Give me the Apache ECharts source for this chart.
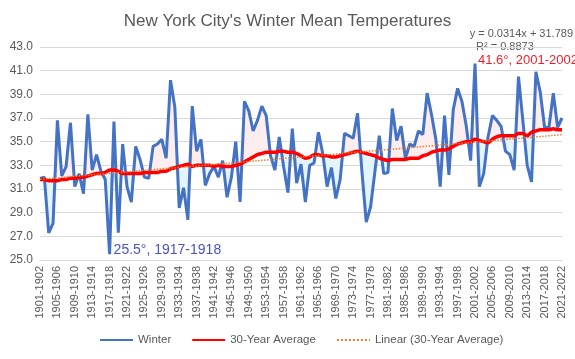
<!DOCTYPE html>
<html><head><meta charset="utf-8">
<script src="https://cdn.jsdelivr.net/npm/echarts@6/dist/echarts.min.js"></script>
<style>html,body{margin:0;padding:0;background:#fff}#c{width:575px;height:359px}</style>
</head><body><div id="c"></div>
<script>
const seasons = [];
for (let y = 1901; y <= 2021; y++) seasons.push(y + '-' + (y + 1));
const winter = [
31.9,32.0,27.3,28.1,36.8,32.1,32.9,36.6,31.2,32.3,
30.6,37.3,32.6,33.9,32.5,31.8,25.5,36.7,27.3,34.8,
31.2,29.9,34.6,33.5,32.0,31.9,34.6,34.8,35.2,33.6,
40.2,37.9,29.4,31.1,28.4,38.0,34.2,35.2,31.3,32.3,
32.9,32.0,33.4,30.3,32.0,35.0,29.9,38.4,37.6,35.9,
36.8,38.0,37.2,33.8,32.6,35.4,32.9,30.7,36.1,31.5,
33.1,29.9,33.0,33.2,35.8,34.0,31.2,32.8,30.2,31.8,
35.7,35.5,35.3,37.4,32.5,28.2,29.5,32.5,35.5,32.3,
32.4,37.8,35.1,36.3,33.6,34.8,34.6,35.9,35.6,39.1,
37.3,35.2,31.2,37.2,32.2,37.7,39.5,38.4,36.3,33.4,
41.6,31.2,32.3,35.4,37.2,36.8,36.3,34.2,33.9,32.6,
40.5,36.8,33.0,31.6,40.9,39.2,36.2,36.2,39.1,36.2,37.0];
const avg30 = [
31.8,31.8,31.7,31.7,31.7,31.8,31.8,31.9,31.9,32.0,
32.0,32.1,32.2,32.3,32.3,32.4,32.6,32.6,32.5,32.3,
32.3,32.3,32.3,32.3,32.4,32.4,32.4,32.4,32.5,32.5,
32.7,32.8,32.9,33.0,33.1,32.9,33.0,33.0,33.0,33.0,
32.9,33.0,32.9,32.9,32.9,33.0,33.1,33.3,33.5,33.7,
33.9,34.0,34.1,34.1,34.1,34.2,34.2,34.1,34.1,34.0,
33.8,33.6,33.7,33.9,33.9,33.8,33.8,33.7,33.7,33.8,
33.9,34.0,34.1,34.2,34.1,34.0,33.9,33.8,33.6,33.5,
33.4,33.5,33.5,33.5,33.5,33.6,33.6,33.6,33.8,33.9,
34.1,34.2,34.3,34.3,34.4,34.6,34.8,34.9,35.0,35.0,
35.2,35.1,35.0,34.9,35.2,35.4,35.5,35.5,35.5,35.5,
35.7,35.7,35.5,35.8,35.9,36.0,36.0,36.0,36.1,36.0,36.0];
// linear trend endpoints (y = 0.0314x + 31.789 at x=1 and x=121)
const trendFirst = 31.82, trendLast = 35.59;
const yTicks = {min: 25, max: 43, step: 2};

const trend = seasons.map((s, i) => i === 0 ? trendFirst : (i === seasons.length - 1 ? trendLast : null));
const lowBase = winter.map((w, i) => Math.min(w, avg30[i]));
const belowBand = winter.map((w, i) => +(avg30[i] - Math.min(w, avg30[i])).toFixed(2));
const aboveBand = winter.map((w, i) => +(Math.max(w, avg30[i]) - avg30[i]).toFixed(2));

const FONT = 'Liberation Sans';
const GREY = '#595959';
const chart = echarts.init(document.getElementById('c'));
chart.setOption({
  animation: false,
  textStyle: {fontFamily: FONT},
  title: {text: "New York City's Winter Mean Temperatures", left: 'center', top: 8,
    textStyle: {fontFamily: FONT, fontSize: 17, fontWeight: 'normal', color: GREY}},
  grid: {left: 40, right: 13, top: 47, bottom: 99},
  legend: {bottom: 8, left: 94, itemWidth: 33, itemHeight: 10, itemGap: 20,
    itemStyle: {opacity: 0},
    textStyle: {fontFamily: FONT, fontSize: 11.5, color: GREY},
    data: ['Winter', '30-Year Average', 'Linear (30-Year Average)']},
  xAxis: {type: 'category', data: seasons, boundaryGap: false,
    axisLine: {lineStyle: {color: '#D9D9D9'}}, axisTick: {show: false},
    axisLabel: {interval: 3, rotate: 90, fontSize: 11, color: GREY, margin: 6}},
  yAxis: {type: 'value', min: yTicks.min, max: yTicks.max, interval: yTicks.step,
    axisLabel: {formatter: v => v.toFixed(1), fontSize: 12, color: GREY, margin: 7},
    splitLine: {lineStyle: {color: '#D9D9D9'}}, axisLine: {show: false}, axisTick: {show: false}},
  graphic: [
    {type: 'text', right: 2, top: 28, style: {text: 'y = 0.0314x + 31.789', font: '11px ' + FONT, fill: GREY}},
    {type: 'text', left: 476, top: 41, style: {text: 'R² = 0.8873', font: '11px ' + FONT, fill: GREY}}
  ],
  series: [
    {name: 'base', type: 'line', stack: 'band', data: lowBase, symbol: 'none', silent: true,
      lineStyle: {opacity: 0}, areaStyle: {opacity: 0}, z: 1},
    {name: 'below', type: 'line', stack: 'band', data: belowBand, symbol: 'none', silent: true,
      lineStyle: {opacity: 0}, areaStyle: {color: '#E3F4FB', opacity: 1}, z: 1},
    {name: 'above', type: 'line', stack: 'band', data: aboveBand, symbol: 'none', silent: true,
      lineStyle: {opacity: 0}, areaStyle: {color: '#FCEDEE', opacity: 1}, z: 1},
    {name: 'Winter', type: 'line', data: winter, symbol: 'none', z: 3,
      lineStyle: {color: '#4472C4', width: 3}, itemStyle: {color: '#4472C4'},
      markPoint: {symbol: 'circle', symbolSize: 0, silent: true,
        data: [
          {coord: [16, 25.5], label: {show: true, position: 'right', offset: [-1, -4], formatter: '25.5°, 1917-1918',
            fontSize: 14, color: '#4A52C6', fontFamily: FONT}},
          {coord: [100, 41.6], label: {show: true, position: 'right', offset: [-2, -3], formatter: '41.6°, 2001-2002',
            fontSize: 13, color: '#F21D2A', fontFamily: FONT}}
        ]}},
    {name: '30-Year Average', type: 'line', data: avg30, symbol: 'none', z: 4, smooth: 0.2,
      lineStyle: {color: '#FF0000', width: 3.5}, itemStyle: {color: '#FF0000'}},
    {name: 'Linear (30-Year Average)', type: 'line', data: trend, connectNulls: true, symbol: 'none', z: 5,
      lineStyle: {color: '#ED7D31', width: 1.5, type: 'dotted'}, itemStyle: {color: '#ED7D31'}}
  ]
});
</script></body></html>
